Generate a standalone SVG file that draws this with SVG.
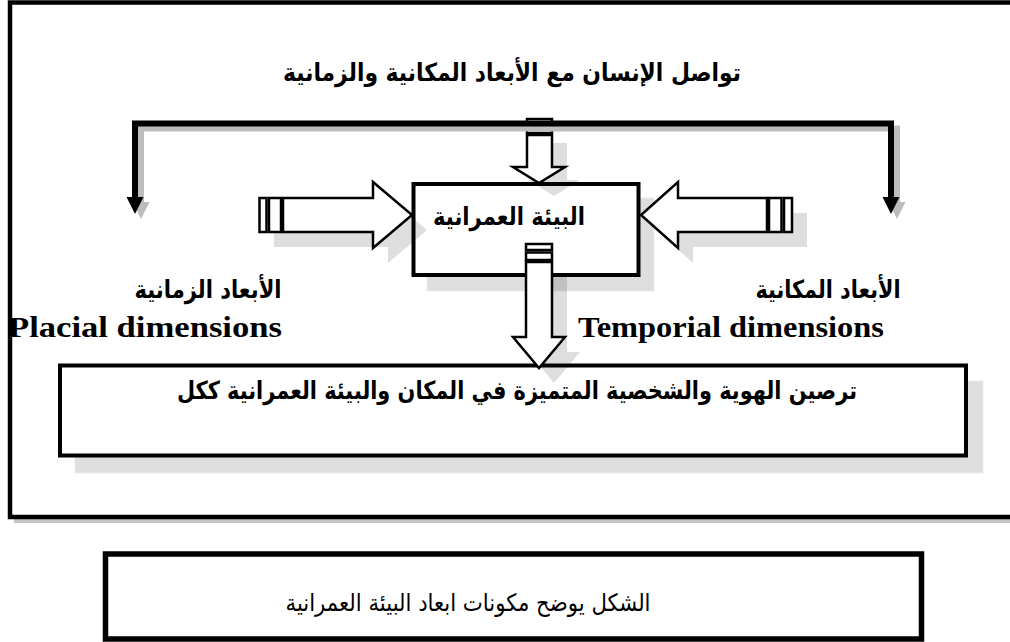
<svg xmlns="http://www.w3.org/2000/svg" width="1010" height="642" viewBox="0 0 1010 642">
<style>
.ar{font-family:"DejaVu Sans","Noto Sans",sans-serif;fill:#000;text-anchor:middle}
.b{font-weight:bold}
.en{font-family:"Liberation Serif",serif;font-weight:bold;fill:#000}
.box{fill:#fff;stroke:#000;stroke-width:4}
.shd{fill:#dedede;stroke:#ececec;stroke-width:1}
.arw{fill:#fff;stroke:#000;stroke-width:2.5;stroke-linejoin:miter}
.ashd{fill:#000;fill-opacity:0.13;stroke:none}
</style>
<rect width="1010" height="642" fill="#fff"/>
<g id="frame">
<rect x="14" y="8" width="1010" height="515" fill="#c4c4c4"/>
<rect x="10" y="2.5" width="1010" height="514.5" fill="#fff" stroke="#000" stroke-width="4.5"/>
</g>
<g id="bottom-node">
<rect x="75" y="381" width="908" height="92" class="shd"/>
<rect x="60" y="365.5" width="906" height="90" class="box"/>
<text class="ar b" x="517" y="399" font-size="25" textLength="680" lengthAdjust="spacingAndGlyphs">ترصين الهوية والشخصية المتميزة في المكان والبيئة العمرانية ككل</text>
</g>
<g id="center-node">
<rect x="427" y="198" width="227" height="93" class="shd"/>
<rect x="413.5" y="184" width="225" height="91" class="box"/>
<text class="ar b" x="509" y="225" font-size="25" textLength="152" lengthAdjust="spacingAndGlyphs">البيئة العمرانية</text>
</g>
<g id="connectors">
<g id="arrow-shadows" transform="translate(15,15)">
<polygon class="ashd" points="259,198 373,198 373,182 412,215 373,248 373,232 259,232"/>
<polygon class="ashd" points="792,198 678,198 678,182 641,215 678,248 678,232 792,232"/>
<polygon class="ashd" points="527,130 552,130 552,167 565,167 539,183 513,167 527,167" transform="translate(0,-2)"/>
<polygon class="ashd" points="526,262 552,262 552,337 565,337 539,368 513,337 526,337"/>
</g>
<g id="arrow-left">
<rect class="arw" x="259.5" y="198" width="7" height="34"/>
<rect class="arw" x="269" y="198" width="12" height="34"/>
<polygon class="arw" points="283,198 373,198 373,182 412,215 373,248 373,232 283,232"/>
</g>
<g id="arrow-right">
<rect class="arw" x="784" y="198" width="8" height="34"/>
<rect class="arw" x="769" y="198" width="12.5" height="34"/>
<polygon class="arw" points="767,198 678,198 678,182 641,215 678,248 678,232 767,232"/>
</g>
<g id="arrow-top">
<rect class="arw" x="527" y="119" width="25" height="7"/>
<rect class="arw" x="527" y="128" width="25" height="5"/>
<polygon class="arw" points="527,135 552,135 552,167 565,167 539,183 513,167 527,167"/>
</g>
<g id="arrow-bottom">
<rect class="arw" x="526" y="244" width="26" height="6"/>
<rect class="arw" x="526" y="252.5" width="26" height="7.5"/>
<polygon class="arw" points="526,262 552,262 552,337 565,337 539,368 513,337 526,337"/>
</g>
<g id="bracket-shadow" transform="translate(6,5)" fill="#bdbdbd" stroke="#bdbdbd">
<polyline points="135,197 135,123.5 891,123.5 891,197" fill="none" stroke-width="6"/>
<polygon points="126.5,197 143.5,197 135,214" stroke="none"/>
<polygon points="882.5,197 899.5,197 891,214" stroke="none"/>
</g>
<g id="bracket">
<polyline points="135,197 135,123.5 891,123.5 891,197" fill="none" stroke="#000" stroke-width="6"/>
<polygon points="126.5,197 143.5,197 135,214" fill="#000"/>
<polygon points="882.5,197 899.5,197 891,214" fill="#000"/>
</g>
</g>
<g id="title">
<text class="ar b" x="512" y="81" font-size="25" textLength="458" lengthAdjust="spacingAndGlyphs">تواصل الإنسان مع الأبعاد المكانية والزمانية</text>
</g>
<g id="label-left">
<text class="ar b" x="208" y="298" font-size="25" textLength="147" lengthAdjust="spacingAndGlyphs">الأبعاد الزمانية</text>
<text class="en" x="8" y="337" font-size="29" textLength="274" lengthAdjust="spacingAndGlyphs">Placial dimensions</text>
</g>
<g id="label-right">
<text class="ar b" x="828" y="298" font-size="25" textLength="145" lengthAdjust="spacingAndGlyphs">الأبعاد المكانية</text>
<text class="en" x="578" y="337" font-size="29" textLength="306" lengthAdjust="spacingAndGlyphs">Temporial dimensions</text>
</g>
<g id="caption">
<rect x="105.5" y="554" width="816" height="85" fill="#fff" stroke="#000" stroke-width="5.5"/>
<text class="ar" x="468" y="611" font-size="24" textLength="365" lengthAdjust="spacingAndGlyphs">الشكل  يوضح مكونات ابعاد البيئة العمرانية</text>
</g>
</svg>
